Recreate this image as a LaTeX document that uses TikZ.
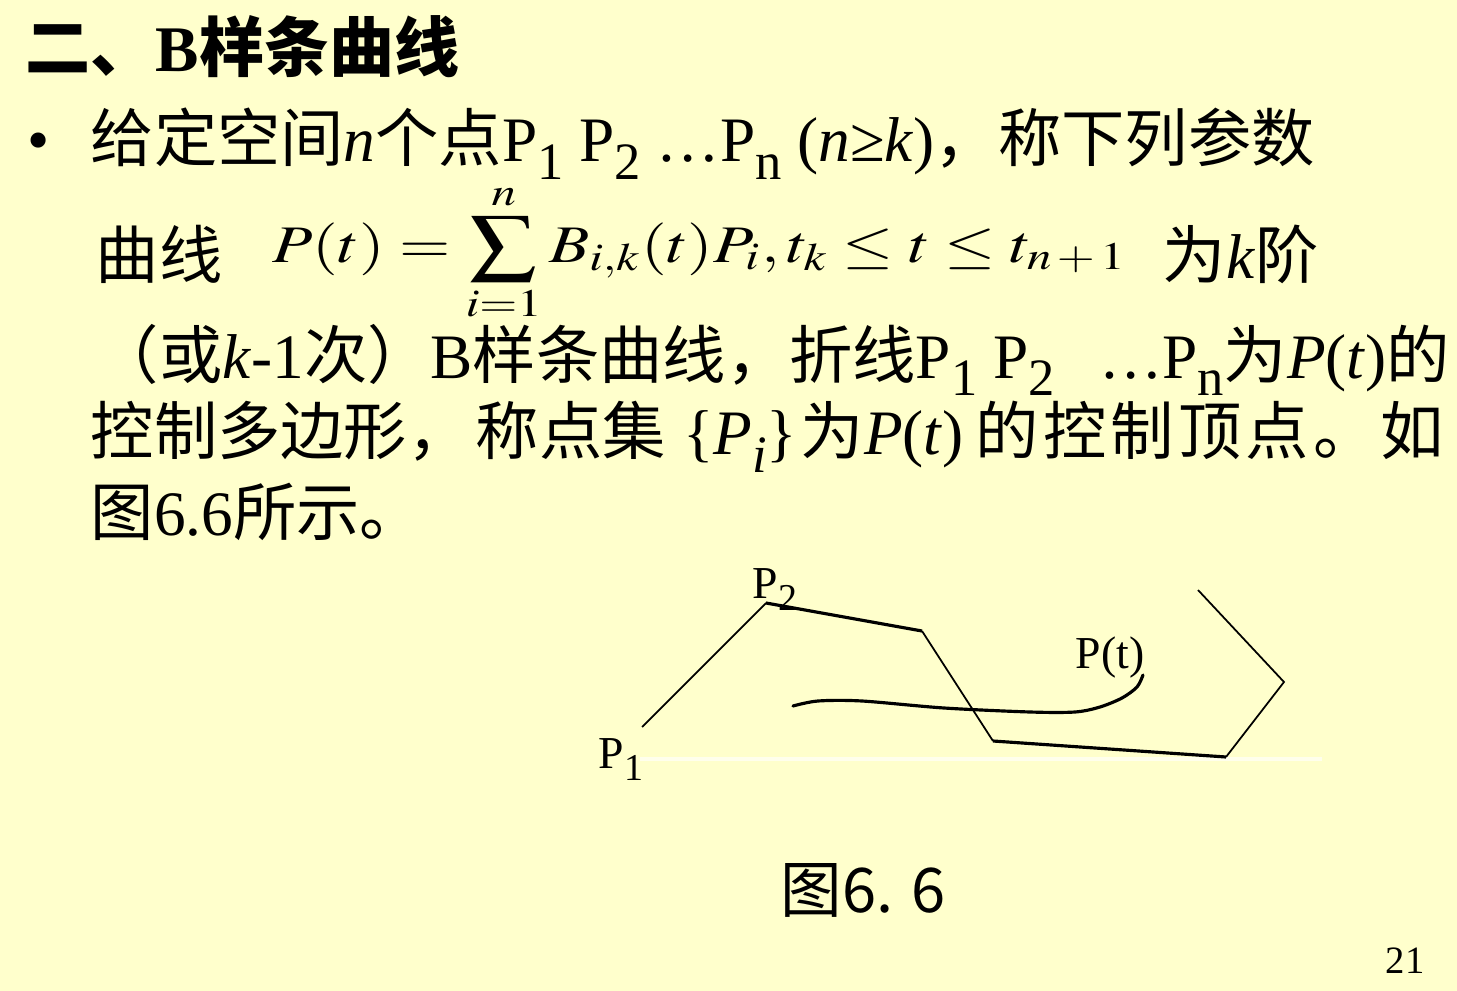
\documentclass[tikz,border=0pt]{standalone}
\usepackage{mathptmx}
\usepackage[no-math]{fontspec}
\setmainfont{Liberation Serif}
\newfontfamily\cjk{Noto Sans CJK SC}
\usepackage{graphicx}
\definecolor{slide}{RGB}{255,255,204}
\definecolor{glint}{RGB}{255,255,236}
\newcommand{\zh}[1]{{\cjk #1}}
\newcommand{\lo}[1]{\raisebox{-0.28em}{\scalebox{0.83}{#1}}}

\begin{document}
\begin{tikzpicture}[x=0.01cm, y=-0.01cm, row/.style = {anchor=base west, inner sep=0pt, font=\fontsize{18}{18}\selectfont}, tag/.style = {anchor=base west, inner sep=0pt, font=\fontsize{13}{13}\selectfont}, leg/.style = {line width=0.5pt}, legh/.style = {line width=0.9pt}, spline/.style = {line width=0.9pt, line cap=round}]

    % slide
    \fill[slide] (0,0) rectangle (1457,991);
    \useasboundingbox (0,0) rectangle (1457,991);

    % text
    \node[row, font=\bfseries\fontsize{18.5}{18.5}\selectfont] (title) at (25,72) {\zh{二、}B\zh{样条曲线}};
    \node[row] (dot) at (27,162) {•};
    \node[row] (l1) at (90,162) {\zh{给定空间}\textit{n}\zh{个点}P\lo{1} P\lo{2} …P\lo{n} (\textit{n}≥\textit{k})\zh{，称下列参数}};
    \node[row] (l2a) at (95,278) {\zh{曲线}};
    \node[row, font=\fontsize{15}{15}\selectfont] (eq) at (272,262) {\scalebox{1.25}[1]{$\displaystyle P(t)=\sum_{i=1}^{n}B_{i,k}(t)P_i,t_k\le t\le t_{n\,+\,1}$}};
    \node[row] (l2b) at (1162,278) {\zh{为}\textit{k}\zh{阶}};
    \node[row] (l3) at (95,378) {\zh{（或}\textit{k}-1\zh{次）}B\zh{样条曲线，折线}P\lo{1} P\lo{2}\hspace{0.7em}…P\lo{n}\zh{为}\textit{P}(\textit{t})\zh{的}};
    \node[row] (l4a) at (90,455) {\zh{控制多边形，}};
    \node[row] (l4b) at (475,455) {\zh{称点集}\hspace{5pt}\{\textit{P}\lo{\textit{i}}\}};
    \node[row] (l4c) at (800,455) {\zh{为}\textit{P}(\textit{t})};
    \node[row] (l4d) at (975,455) {\makebox[4.68cm]{\zh{的\hfill 控\hfill 制\hfill 顶\hfill 点\hfill 。\hfill 如}}};
    \node[row] (l5) at (90,535) {\zh{图}6.6\zh{所示。}};

    % control polygon
    \coordinate (c1) at (642,727);
    \coordinate (c2) at (766,603);
    \coordinate (c3) at (922,631);
    \coordinate (c4) at (993,741);
    \coordinate (c5) at (1226,757);
    \coordinate (c6) at (1284,682);
    \coordinate (c7) at (1198,590);
    \coordinate (g1) at (640,759);
    \coordinate (g2) at (1322,759);
    \draw[glint, line width=0.9pt] (g1) -- (g2);
    \draw[leg] (c1) -- (c2);
    \draw[legh] (c2) -- (c3);
    \draw[leg] (c3) -- (c4);
    \draw[legh] (c4) -- (c5);
    \draw[leg] (c5) -- (c6) -- (c7);

    % curve
    \draw[spline] plot[smooth, tension=0.5] coordinates {(793,706) (818,701) (862,701) (944,708) (1030,712) (1075,712) (1100,707) (1122,698) (1137,687) (1143,675)};

    % labels
    \node[tag] (p1) at (598,768) {P\lo{1}};
    \node[tag] (p2) at (752,598) {P\lo{2}};
    \node[tag] (pt) at (1075,668) {P(t)};
    \node[row, font=\cjk\fontsize{17.5}{17.5}\selectfont] (cap) at (780,912) {图6. 6};
    \node[row, font=\fontsize{11}{11}\selectfont] (page) at (1385,973) {21};

\end{tikzpicture}
\end{document}
